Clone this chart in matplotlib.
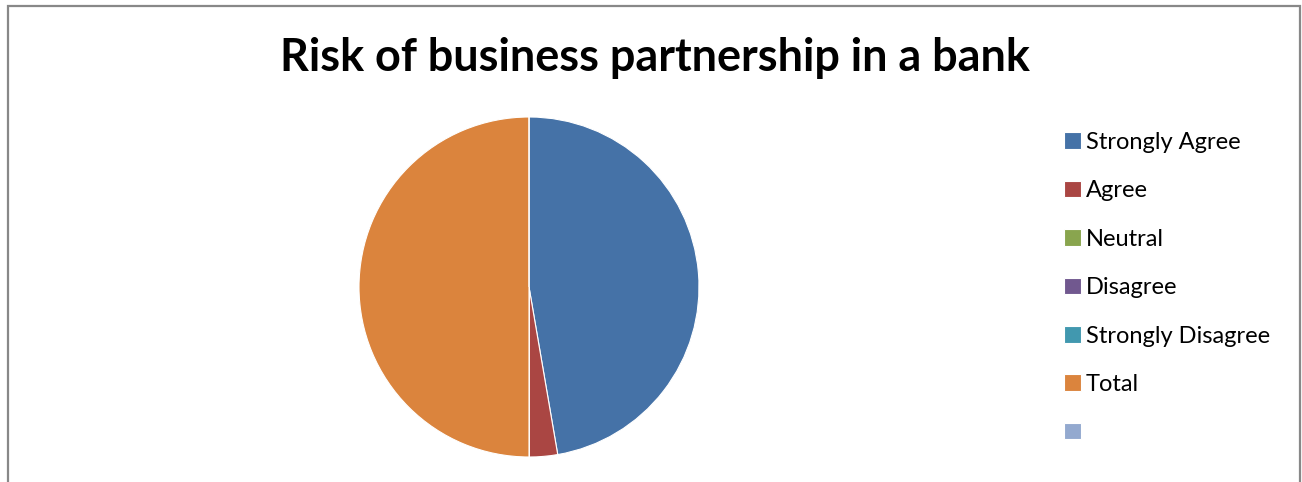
import matplotlib.pyplot as plt
from matplotlib.patches import Rectangle

# survey answers
labels = ["Strongly Agree", "Agree", "Neutral", "Disagree", "Strongly Disagree", "Total", ""]
values = [35, 2, 0, 0, 0, 37, 0]
colors = ["#4572A7", "#AA4643", "#89A54E", "#71588F", "#4198AF", "#DB843D", "#93A9CF"]

W, H = 1302, 482
fig = plt.figure(figsize=(W / 100, H / 100), dpi=100)
plt.rcParams['font.family'] = ['Lato', 'DejaVu Sans']

# chart frame
fig.patches.append(Rectangle((8 / W, -0.1), 1292 / W, (H - 6) / H + 0.1, transform=fig.transFigure,
                             fill=False, edgecolor="#888888", linewidth=1.6))

ax = fig.add_axes([359 / W, 25 / H, 340 / W, 340 / H])
wedges, _ = ax.pie(values, colors=colors, startangle=90, counterclock=False,
                   wedgeprops=dict(edgecolor="white", linewidth=0.8))
ax.set_xlim(-1, 1)
ax.set_ylim(-1, 1)
ax.set_aspect("equal")

fig.text(655 / W, 1 - 58 / H, "Risk of business partnership in a bank", ha="center", va="center",
         fontsize=32.4, fontweight="bold")

fig.legend(wedges, labels, loc="upper left", bbox_to_anchor=(1064 / W, 1 - 132 / H), frameon=False,
           fontsize=17, labelspacing=1.16, handlelength=0.7, handleheight=0.7, handletextpad=0.22,
           borderpad=0, borderaxespad=0)

fig.savefig("out.png", dpi=100)
